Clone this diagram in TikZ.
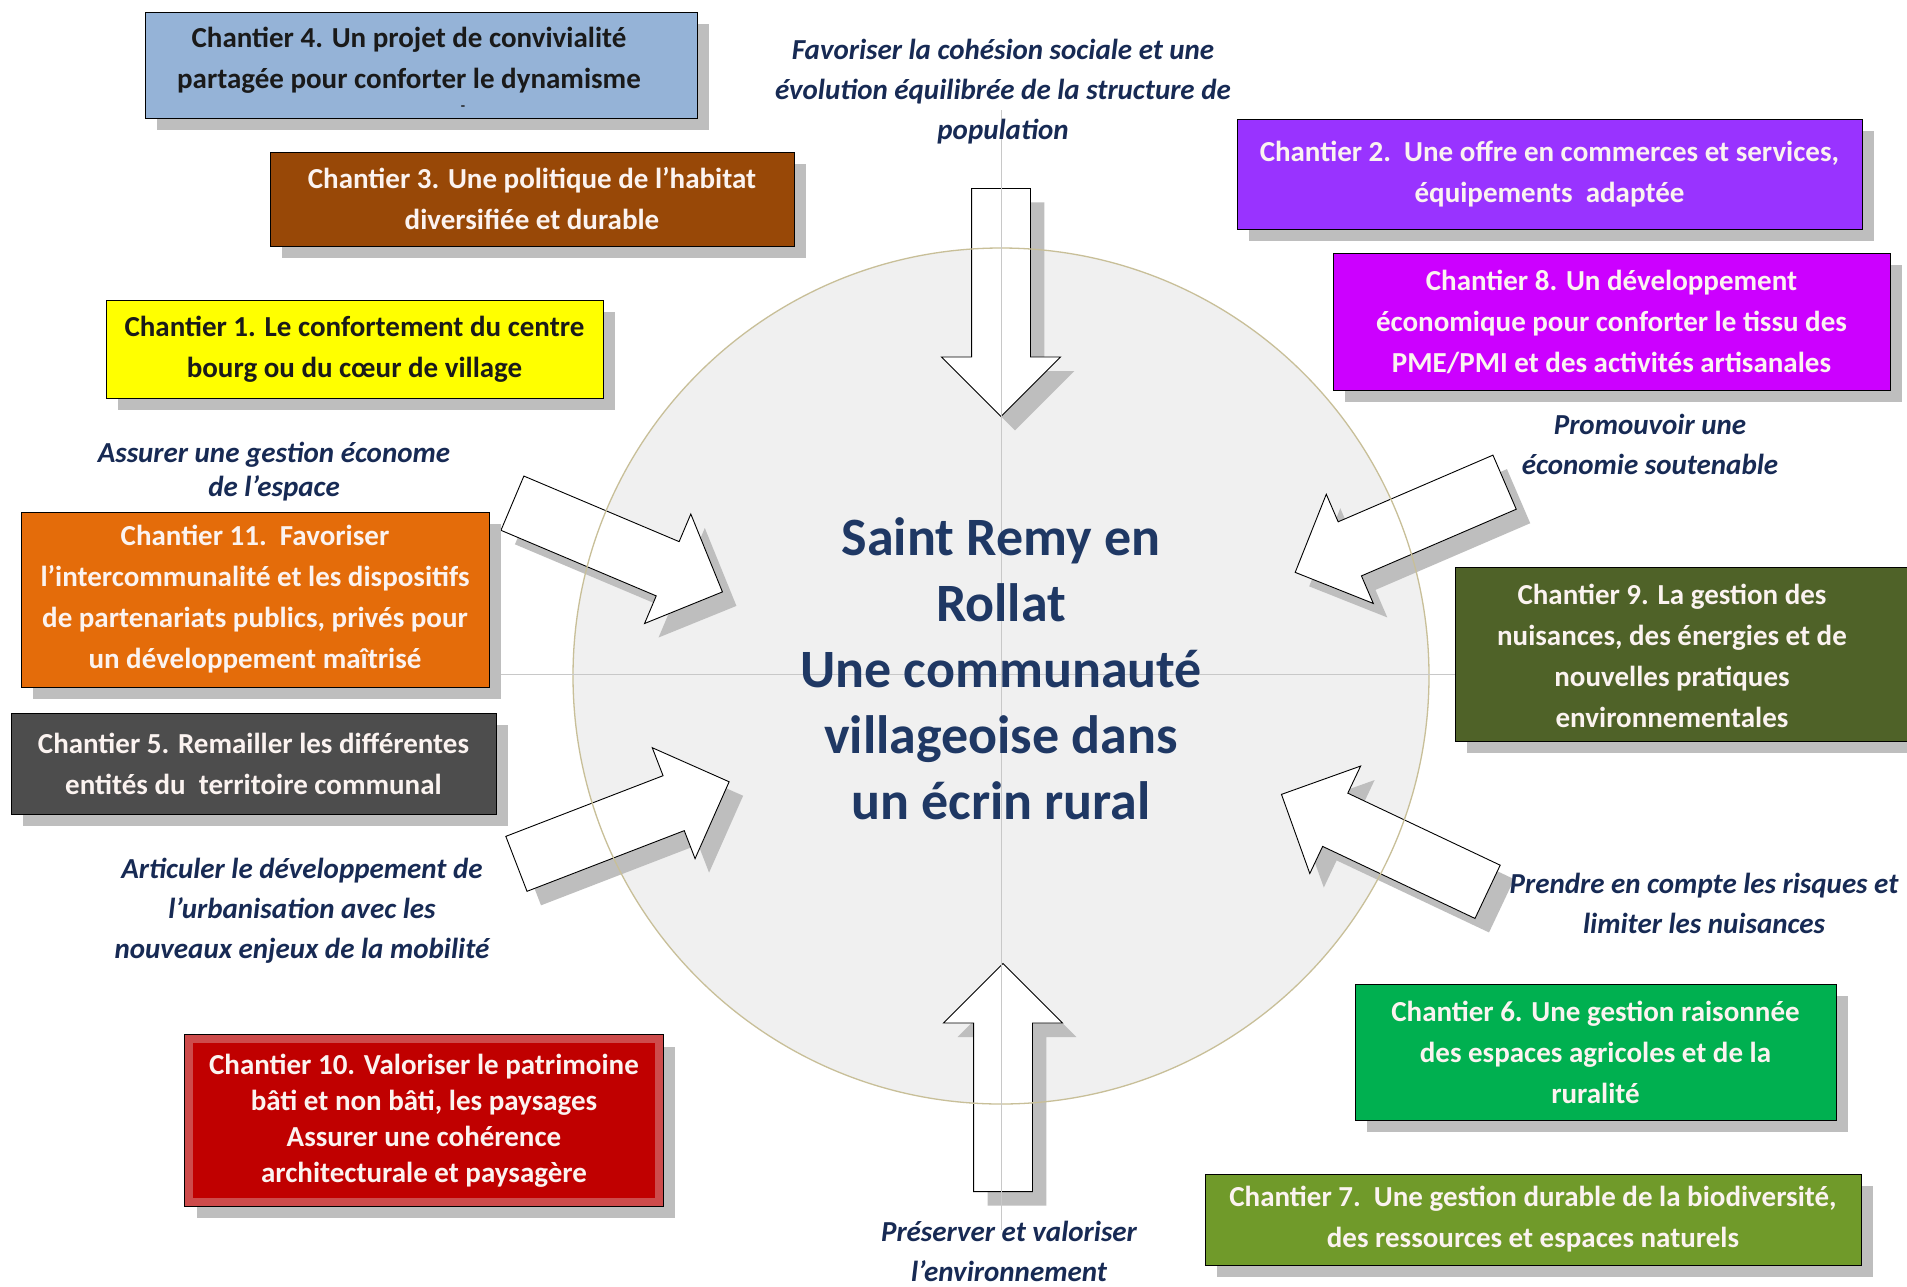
\documentclass[tikz,border=0pt]{standalone}
\usepackage{fontspec}
\setmainfont{Carlito}
\usepackage{tikz}
\usetikzlibrary{shapes.arrows,shadows,positioning}

\definecolor{hubfill}{HTML}{F0F0F0}
\definecolor{hubedge}{HTML}{C8BF98}
\definecolor{axisgray}{HTML}{C8C8C8}
\definecolor{shade}{HTML}{BEBEBE}
\definecolor{navy}{HTML}{172A54}
\definecolor{titleblue}{HTML}{1F3864}
\definecolor{lightfg}{HTML}{FBF3F0}
\definecolor{darkfg}{HTML}{1A1A1A}
\definecolor{cblue}{HTML}{95B3D7}
\definecolor{cbrown}{HTML}{984807}
\definecolor{cyellow}{HTML}{FFFF00}
\definecolor{corange}{HTML}{E46C0A}
\definecolor{cgray}{HTML}{4D4D4D}
\definecolor{cred}{HTML}{C00000}
\definecolor{credband}{HTML}{CD4B4B}
\definecolor{cviolet}{HTML}{9933FF}
\definecolor{cmagenta}{HTML}{CC00FF}
\definecolor{colive}{HTML}{4F6228}
\definecolor{cgreen}{HTML}{00B050}
\definecolor{cleaf}{HTML}{709A2A}

\begin{document}
\begin{tikzpicture}[x=1pt, y=-1pt,
  chantier/.style={rectangle, draw=black, line width=1pt, align=center,
                   inner sep=0pt, text=lightfg,
                   font=\bfseries\fontsize{29}{41}\selectfont,
                   drop shadow={shadow xshift=12pt, shadow yshift=-12pt,
                                fill=shade, opacity=1}},
  boxtext/.style={align=center, font=\bfseries\fontsize{29}{41}\selectfont},
  objectif/.style={align=center, text=navy,
                   font=\bfseries\itshape\fontsize{29}{40}\selectfont},
  bloc/.style={single arrow, draw=black, fill=white, line width=0.9pt,
               minimum height=228pt, inner xsep=0pt, inner ysep=29pt,
               single arrow head extend=30pt, anchor=tail,
               drop shadow={shadow xshift=14pt, shadow yshift=-14pt,
                            fill=shade, opacity=1}},
  axis/.style={axisgray, line width=0.8pt}
]
\useasboundingbox (0,0) rectangle (1907,1286);
\fill[white] (0,0) rectangle (1907,1286);

% central disc
\node[circle, fill=hubfill, minimum size=856pt, inner sep=0pt] (hub) at (1001,676) {};

% block arrows pointing to the centre (placed by their tail)
\node[bloc, rotate=-90] (flechN) at (1001,188) {};
\node[bloc, rotate=90] (flechS) at (1003,1192) {};
\node[bloc, rotate=-22.9] (flechNO) at (512,503) {};
\node[bloc, rotate=21.1] (flechSO) at (516,864) {};
\node[bloc, rotate=-156.7] (flechNE) at (1505,482) {};
\node[bloc, rotate=154.7] (flechSE) at (1488,892) {};

\draw[hubedge, line width=1.3pt] (hub.center) circle[radius=428pt];
\draw[axis] (1001,110) -- (1001,1230);
\draw[axis] (500,674) -- (1500,674);

% chantiers
\node[chantier, fill=cblue, minimum width=552pt, minimum height=106pt] (c4) at (421,65) {};
\node[boxtext, text=darkfg] (c4texte) at (409,60)
  {Chantier 4. Un projet de convivialité\\partagée pour conforter le dynamisme};
\node[font=\bfseries\fontsize{14}{14}\selectfont, text=darkfg] (c4tiret) at (463,108) {-};
\node[chantier, fill=cbrown, minimum width=524pt, minimum height=94pt] (c3) at (532,199)
  {Chantier 3. Une politique de l’habitat\\diversifiée et durable};
\node[chantier, fill=cyellow, text=darkfg, minimum width=497pt, minimum height=98pt] (c1) at (354.5,349)
  {Chantier 1. Le confortement du centre\\bourg ou du cœur de village};
\node[chantier, fill=corange, minimum width=468pt, minimum height=175pt] (c11) at (255,599.5)
  {Chantier 11.\ \ Favoriser\\l’intercommunalité et les dispositifs\\de partenariats publics, privés pour\\un développement maîtrisé};
\node[chantier, fill=cgray, minimum width=485pt, minimum height=101pt] (c5) at (253.5,763.5)
  {Chantier 5. Remailler les différentes\\entités du\ \ territoire communal};
\node[chantier, fill=cred, minimum width=478pt, minimum height=171pt,
      font=\bfseries\fontsize{29}{36}\selectfont] (c10) at (424,1120.5)
  {Chantier 10. Valoriser le patrimoine\\bâti et non bâti, les paysages\\Assurer une cohérence\\architecturale et paysagère};
\draw[credband, line width=8pt] ([shift={(4.5,-4.5)}]c10.south west) rectangle ([shift={(-4.5,4.5)}]c10.north east);
\draw[black, line width=1pt] (c10.south west) rectangle (c10.north east);
\node[chantier, fill=cviolet, minimum width=625pt, minimum height=110pt] (c2) at (1549.5,174)
  {Chantier 2.\ \ Une offre en commerces et services,\\équipements\ \ adaptée};
\node[chantier, fill=cmagenta, minimum width=557pt, minimum height=137pt] (c8) at (1611.5,321.5)
  {Chantier 8. Un développement\\économique pour conforter le tissu des\\PME/PMI et des activités artisanales};
\node[chantier, fill=colive, minimum width=460pt, minimum height=174pt] (c9) at (1685,654) {};
\node[boxtext, text=lightfg] (c9texte) at (1672,656)
  {Chantier 9. La gestion des\\nuisances, des énergies et de\\nouvelles pratiques\\environnementales};
\node[chantier, fill=cgreen, minimum width=481pt, minimum height=136pt] (c6) at (1595.5,1052)
  {Chantier 6. Une gestion raisonnée\\des espaces agricoles et de la\\ruralité};
\node[chantier, fill=cleaf, minimum width=656pt, minimum height=91pt] (c7) at (1533,1219.5)
  {Chantier 7.\ \ Une gestion durable de la biodiversité,\\des ressources et espaces naturels};

% objectifs
\node[objectif] (cohesion) at (1003,92)
  {Favoriser la cohésion sociale et une\\évolution équilibrée de la structure de\\population};
\node[objectif] (espace) at (274,472)
  {Assurer une gestion économe\\[-6pt]de l’espace};
\node[objectif] (economie) at (1650,444)
  {Promouvoir une\\économie soutenable};
\node[objectif] (mobilite) at (302,911)
  {Articuler le développement de\\l’urbanisation avec les\\nouveaux enjeux de la mobilité};
\node[objectif] (risques) at (1704,903.5)
  {Prendre en compte les risques et\\limiter les nuisances};
\node[objectif] (environnement) at (1009,1251)
  {Préserver et valoriser\\l’environnement};

% titre
\node[align=center, text=titleblue, font=\bfseries\fontsize{54}{66}\selectfont] (titre) at (1001,669)
  {Saint Remy en\\Rollat\\Une communauté\\villageoise dans\\un écrin rural};
\end{tikzpicture}
\end{document}
